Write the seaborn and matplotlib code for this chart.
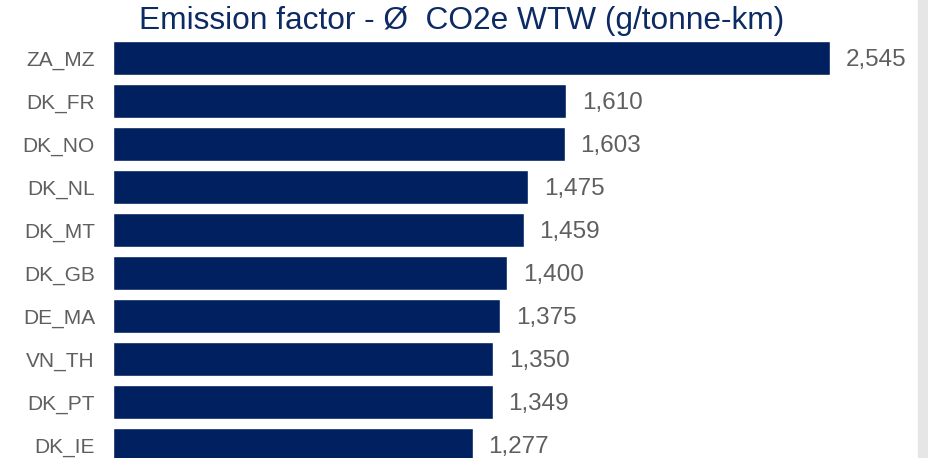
import pandas as pd
import seaborn as sns
import matplotlib.pyplot as plt
from matplotlib.patches import Rectangle

routes = ["ZA_MZ", "DK_FR", "DK_NO", "DK_NL", "DK_MT", "DK_GB", "DE_MA", "VN_TH", "DK_PT", "DK_IE"]
factors = [2545, 1610, 1603, 1475, 1459, 1400, 1375, 1350, 1349, 1277]

df = pd.DataFrame({"route": routes, "factor": factors})

sns.set_style("white")
plt.rcParams['font.family'] = ['Liberation Sans', 'DejaVu Sans']

fig = plt.figure(figsize=(9.29, 4.58), dpi=100)
ax = fig.add_axes([113/929, 0, (918-113)/929, 1 - 36.5/458])

sns.barplot(data=df, x="factor", y="route", color="#002060", saturation=1, width=0.77, ax=ax)

# value labels at the bar ends
for i, v in enumerate(factors):
    ax.text(v + 55, i + 0.05, f"{v:,}", va="center", ha="left", fontsize=17.5, color="#5f5f5f")

ax.set_xlim(0, 2858)
ax.set_ylim(9.302, -0.5)
ax.set_xlabel("")
ax.set_ylabel("")
ax.set_xticks([])
ax.tick_params(axis="y", length=0, pad=13, labelsize=15, labelcolor="#5f5f5f")
sns.despine(ax=ax, left=True, bottom=True)

fig.text(462/929, 1 - 20.5/458, "Emission factor - Ø  CO2e WTW (g/tonne-km)",
         ha="center", va="center", fontsize=22.8, color="#0c2a63")

fig.patches.append(Rectangle((918/929, 0), 11/929, 1, transform=fig.transFigure,
                             color="#e6e6e6", zorder=0))

plt.savefig("out.png", dpi=100)
